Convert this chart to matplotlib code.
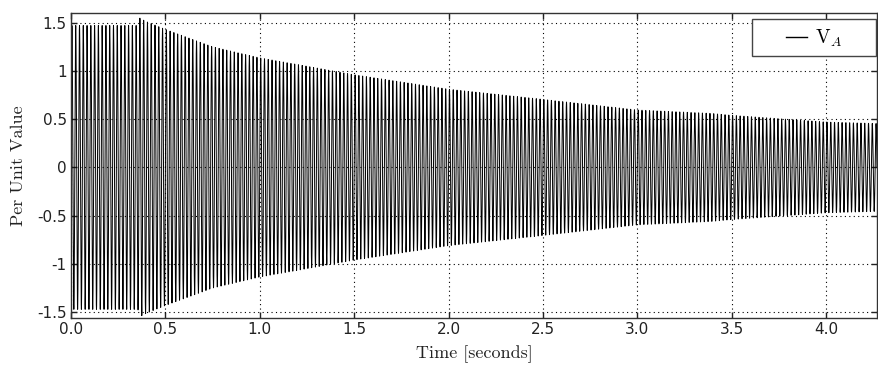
import numpy as np
import matplotlib
matplotlib.use("Agg")
import matplotlib.pyplot as plt
from matplotlib.legend_handler import HandlerLine2D
from matplotlib.patches import Rectangle

plt.rcParams['mathtext.fontset'] = 'cm'

# --- data ---
freq_hz = 50.0
t_end = 4.27
env_t = [0.0, 0.355, 0.357, 0.38, 0.40, 0.50, 0.75, 1.0, 1.16, 1.5, 2.0, 2.12, 2.5, 3.0, 3.39, 3.5, 4.0, 4.27]
env_a = [1.47, 1.47, 1.555, 1.53, 1.51, 1.43, 1.25, 1.135, 1.08, 0.96, 0.81, 0.785, 0.705, 0.595, 0.56, 0.54, 0.47, 0.455]
xticks = [0.0, 0.5, 1.0, 1.5, 2.0, 2.5, 3.0, 3.5, 4.0]
xticklabels = ['0.0', '0.5', '1.0', '1.5', '2.0', '2.5', '3.0', '3.5', '4.0']
yticks = [1.5, 1.0, 0.5, 0.0, -0.5, -1.0, -1.5]
yticklabels = ['1.5', '1', '0.5', '0', '-0.5', '-1', '-1.5']

t = np.linspace(0, t_end, int(t_end * freq_hz * 120))
env = np.interp(t, env_t, env_a)
v = env * np.sin(2 * np.pi * freq_hz * t)

W, H = 879, 368
fig = plt.figure(figsize=(W/100, H/100), dpi=100)
ax_l, ax_r, ax_t, ax_b = 71, 877, 13, 318
ax = fig.add_axes([ax_l/W, 1-ax_b/H, (ax_r-ax_l)/W, (ax_b-ax_t)/H])
line, = ax.plot(t, v, color='black', lw=0.7, label=r'$\mathrm{V}_A$')

ax.set_xlim(0, t_end)
ax.set_ylim(-1.56, 1.60)
ax.set_xticks(xticks)
ax.set_xticklabels(xticklabels)
ax.set_yticks(yticks)
ax.set_yticklabels(yticklabels)
ax.tick_params(direction='in', top=True, right=True, length=4, width=1,
               labelsize=11, colors='#222222', pad=3)
for s in ax.spines.values():
    s.set_color('#333333')
    s.set_linewidth(1.0)
ax.grid(True, color='black', linestyle=(0, (1, 3)), linewidth=0.8)

ax.set_xlabel('Time [seconds]', fontfamily='cmr10', fontsize=13, color='#222222', labelpad=6)
ax.set_ylabel('Per Unit Value', fontfamily='cmr10', fontsize=13, color='#222222', labelpad=8)

# legend frame (wider than its content, as in the original)
bx_l, bx_r, bx_t, bx_b = 752, 876, 19, 56
def to_axes(px, py):
    return (px - ax_l) / (ax_r - ax_l), (ax_b - py) / (ax_b - ax_t)
x0, y0 = to_axes(bx_l, bx_b)
x1, y1 = to_axes(bx_r, bx_t)
frame = Rectangle((x0, y0), x1 - x0, y1 - y0, transform=ax.transAxes,
                  facecolor='white', edgecolor='#444444', linewidth=1.0, zorder=4)
ax.add_patch(frame)

leg = ax.legend(handles=[line], loc='upper left',
                bbox_to_anchor=(bx_l/W, 1-bx_t/H), bbox_transform=fig.transFigure,
                borderaxespad=0, fontsize=14, frameon=False,
                borderpad=0.45, handlelength=2.38, handletextpad=0.4,
                handler_map={line: HandlerLine2D(xpad=1.3)})
leg.set_zorder(5)
for l in leg.get_lines():
    l.set_linewidth(1.0)

fig.savefig('out.png', dpi=100)
